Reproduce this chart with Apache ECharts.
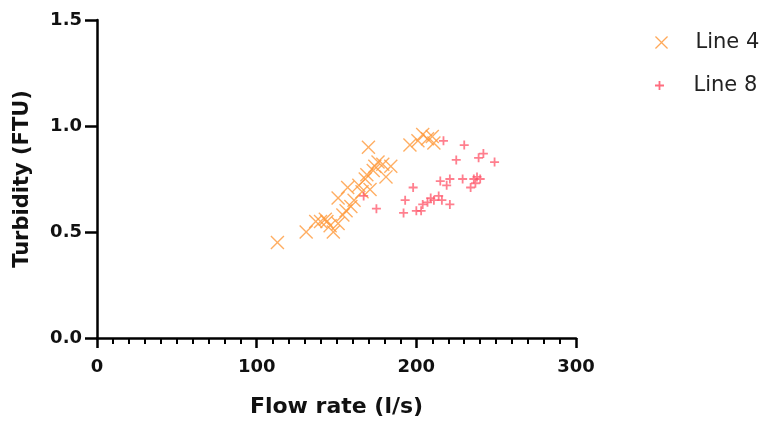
<!DOCTYPE html>
<html>
<head>
<meta charset="utf-8">
<script src="https://cdn.jsdelivr.net/npm/echarts@6/dist/echarts.min.js"></script>
<style>html,body{margin:0;padding:0;background:#fff}#c{width:768px;height:424px}</style>
</head>
<body>
<div id="c"></div>
<script>
var seriesNames = ['Line 4', 'Line 8'];
var xTicks = [0, 100, 200, 300];
var yTicks = [0.0, 0.5, 1.0, 1.5];

var line4Flow = [113, 131, 137, 140, 143, 144, 146, 148, 151, 154, 156, 151, 157, 159, 161, 164, 166, 168, 169, 170, 171, 173, 174, 176, 179, 181, 184, 196, 201, 204, 207, 210, 211];
var line4Turb = [0.45, 0.50, 0.55, 0.55, 0.56, 0.55, 0.53, 0.50, 0.54, 0.58, 0.60, 0.66, 0.71, 0.62, 0.65, 0.72, 0.69, 0.75, 0.77, 0.90, 0.70, 0.79, 0.81, 0.83, 0.82, 0.76, 0.81, 0.91, 0.93, 0.96, 0.94, 0.95, 0.92];

var line8Flow = [167, 175, 192, 193, 198, 200, 203, 204, 207, 209, 211, 214, 216, 215, 219, 221, 221, 217, 225, 230, 229, 234, 236, 238, 240, 239, 242, 249, 237];
var line8Turb = [0.67, 0.61, 0.59, 0.65, 0.71, 0.60, 0.60, 0.63, 0.64, 0.66, 0.65, 0.67, 0.65, 0.74, 0.72, 0.75, 0.63, 0.93, 0.84, 0.91, 0.75, 0.71, 0.75, 0.76, 0.75, 0.85, 0.87, 0.83, 0.73];

function pairs(xs, ys) { return xs.map(function (x, i) { return [x, ys[i]]; }); }

var xSym = 'path://M0,0.7 L0.7,0 L5,4.3 L9.3,0 L10,0.7 L5.7,5 L10,9.3 L9.3,10 L5,5.7 L0.7,10 L0,9.3 L4.3,5 Z';
var plusSym = 'path://M4,0 H6 V4 H10 V6 H6 V10 H4 V6 H0 V4 H4 Z';
var orange = '#FF9A3C';
var red = '#FF5468';
var font = '"DejaVu Sans", sans-serif';

var chart = echarts.init(document.getElementById('c'));
chart.setOption({
  animation: false,
  backgroundColor: '#fff',
  grid: { left: 97, right: 192, top: 20, bottom: 86 },
  legend: [
    { orient: 'vertical', left: 650, top: 27, itemWidth: 58, itemHeight: 13, symbolKeepAspect: true,
      textStyle: { fontFamily: font, fontSize: 21, color: '#222' },
      data: [{ name: seriesNames[0], icon: xSym, itemStyle: { color: orange, opacity: 0.85 } }] },
    { orient: 'vertical', left: 650, top: 70, itemWidth: 58, itemHeight: 9, symbolKeepAspect: true,
      textStyle: { fontFamily: font, fontSize: 21, color: '#222' },
      data: [{ name: seriesNames[1], icon: plusSym, itemStyle: { color: red, opacity: 0.85 } }] }
  ],
  xAxis: {
    type: 'value', min: xTicks[0], max: xTicks[xTicks.length - 1], interval: 100,
    name: 'Flow rate (l/s)', nameLocation: 'middle', nameGap: 58,
    nameTextStyle: { fontFamily: font, fontSize: 22, fontWeight: 'bold', color: '#111' },
    axisLine: { show: true, onZero: false, lineStyle: { color: '#000', width: 2.5 } },
    axisTick: { show: true, length: 10, lineStyle: { color: '#000', width: 2.5 } },
    minorTick: { show: true, splitNumber: 10, length: 6, lineStyle: { color: '#000', width: 2 } },
    axisLabel: { fontFamily: font, fontSize: 18, fontWeight: 'bold', color: '#111', margin: 20 },
    splitLine: { show: false }
  },
  yAxis: {
    type: 'value', min: yTicks[0], max: yTicks[yTicks.length - 1], interval: 0.5,
    name: 'Turbidity (FTU)', nameLocation: 'middle', nameGap: 64,
    nameTextStyle: { fontFamily: font, fontSize: 21, fontWeight: 'bold', color: '#111' },
    axisLine: { show: true, onZero: false, lineStyle: { color: '#000', width: 2.5 } },
    axisTick: { show: true, length: 12, lineStyle: { color: '#000', width: 2.5 } },
    axisLabel: { fontFamily: font, fontSize: 18, fontWeight: 'bold', color: '#111', margin: 15,
      formatter: function (v) { return v.toFixed(1); } },
    splitLine: { show: false }
  },
  series: [
    { name: seriesNames[0], type: 'scatter', symbol: xSym, symbolSize: 14,
      itemStyle: { color: orange, opacity: 0.8 }, data: pairs(line4Flow, line4Turb) },
    { name: seriesNames[1], type: 'scatter', symbol: plusSym, symbolSize: 9,
      itemStyle: { color: red, opacity: 0.75 }, data: pairs(line8Flow, line8Turb) }
  ]
});
</script>
</body>
</html>
